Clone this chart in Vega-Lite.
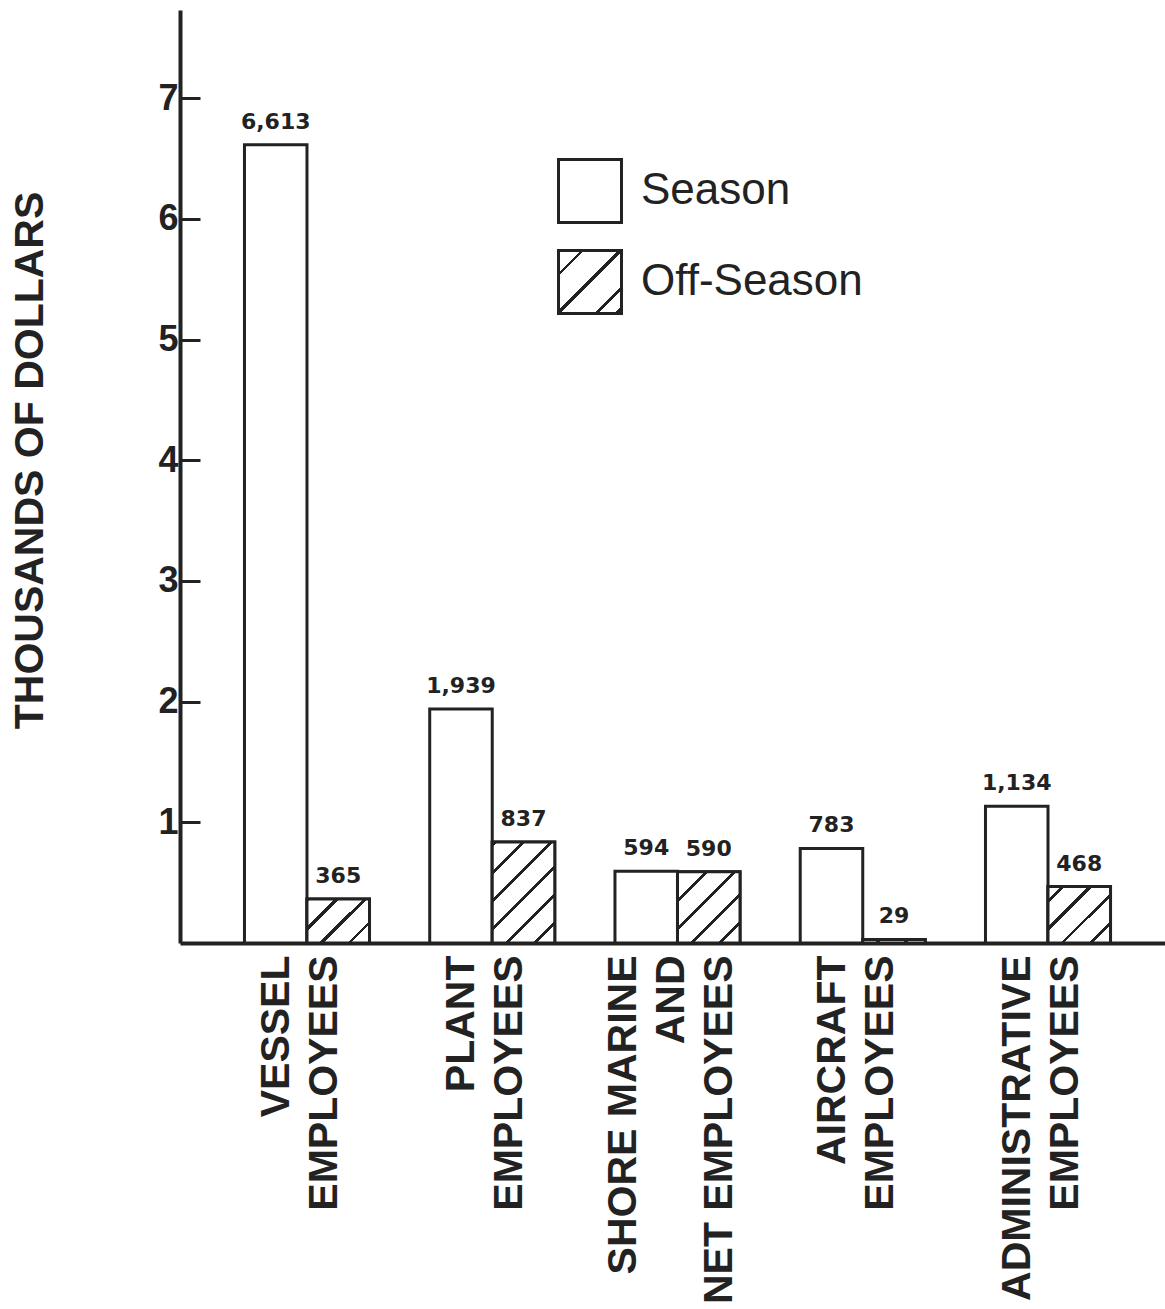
{
  "$schema": "https://vega.github.io/schema/vega-lite/v6.json",
  "autosize": {"type": "none"},
  "padding": {"left": 180, "top": 10, "right": 0, "bottom": 366},
  "width": 985,
  "height": 933,
  "background": "white",
  "config": {
    "view": {"stroke": null},
    "font": "Liberation Sans",
    "axis": {"grid": false, "domainColor": "#222", "domainWidth": 4, "tickColor": "#222", "labelColor": "#222", "titleColor": "#222"}
  },
  "data": {
    "values": [
      {"category": "VESSEL\nEMPLOYEES", "period": "Season", "value": 6613},
      {"category": "VESSEL\nEMPLOYEES", "period": "Off-Season", "value": 365},
      {"category": "PLANT\nEMPLOYEES", "period": "Season", "value": 1939},
      {"category": "PLANT\nEMPLOYEES", "period": "Off-Season", "value": 837},
      {"category": "SHORE MARINE\nAND\nNET EMPLOYEES", "period": "Season", "value": 594},
      {"category": "SHORE MARINE\nAND\nNET EMPLOYEES", "period": "Off-Season", "value": 590},
      {"category": "AIRCRAFT\nEMPLOYEES", "period": "Season", "value": 783},
      {"category": "AIRCRAFT\nEMPLOYEES", "period": "Off-Season", "value": 29},
      {"category": "ADMINISTRATIVE\nEMPLOYEES", "period": "Season", "value": 1134},
      {"category": "ADMINISTRATIVE\nEMPLOYEES", "period": "Off-Season", "value": 468}
    ]
  },
  "encoding": {
    "x": {
      "field": "category", "type": "nominal", "sort": null,
      "scale": {"paddingInner": 0.325, "paddingOuter": 0.321, "align": 0.542},
      "axis": {
        "title": null, "ticks": false, "labelAngle": -90, "labelAlign": "right", "labelBaseline": "middle",
        "labelPadding": 12, "labelFontSize": 41, "labelFontWeight": "bold", "labelLineHeight": 48,
        "labelLimit": 500, "labelOverlap": false, "labelFlush": false,
        "labelOffset": {"condition": {"test": "indexof(datum.value, 'SHORE') === 0", "value": -53}, "value": -30},
        "labelExpr": "split(datum.label, '\\n')"
      }
    },
    "xOffset": {"field": "period", "type": "nominal", "scale": {"domain": ["Season", "Off-Season"]}},
    "y": {
      "field": "value", "type": "quantitative",
      "scale": {"domain": [0, 7730], "nice": false},
      "axis": {
        "values": [1000, 2000, 3000, 4000, 5000, 6000, 7000],
        "labelExpr": "datum.value / 1000",
        "tickSize": -20, "tickWidth": 3, "labelPadding": 22,
        "labelFontSize": 36, "labelFontWeight": "bold",
        "title": "THOUSANDS OF DOLLARS", "titleFontSize": 41, "titleFontWeight": "bold",
        "titleAngle": -90, "titleX": -150, "titleY": 450, "titleAlign": "center", "titleBaseline": "middle"
      }
    }
  },
  "layer": [
    {
      "mark": {"type": "bar", "stroke": "#222", "strokeWidth": 3},
      "encoding": {
        "fill": {
          "field": "period", "type": "nominal",
          "scale": {
            "domain": ["Season", "Off-Season"],
            "range": ["white", {"expr": "{gradient: 'linear', x1: 0, y1: 0, x2: 1, y2: 1, stops: [{offset: 0, color: 'white'}, {offset: 0.175, color: 'white'}, {offset: 0.175, color: '#222'}, {offset: 0.206, color: '#222'}, {offset: 0.206, color: 'white'}, {offset: 0.476, color: 'white'}, {offset: 0.476, color: '#222'}, {offset: 0.508, color: '#222'}, {offset: 0.508, color: 'white'}, {offset: 0.778, color: 'white'}, {offset: 0.778, color: '#222'}, {offset: 0.810, color: '#222'}, {offset: 0.810, color: 'white'}, {offset: 0.944, color: 'white'}, {offset: 0.944, color: '#222'}, {offset: 1, color: '#222'}]}"}]
          },
          "legend": {
            "title": null, "orient": "none", "legendX": 377, "legendY": 148, "padding": 0,
            "symbolType": "square", "symbolSize": 3969, "symbolStrokeColor": "#222", "symbolStrokeWidth": 3,
            "labelFontSize": 44, "labelFont": "Liberation Sans", "labelColor": "#222", "labelOffset": 18,
            "rowPadding": 15, "labelLimit": 400,
            "encode": {
              "symbols": {
                "update": {
                  "stroke": {"value": "#222"},
                  "strokeWidth": {"value": 3},
                  "opacity": {"value": 1}
                }
              }
            }
          }
        }
      }
    },
    {
      "transform": [{"filter": "datum.period === 'Off-Season'"}],
      "mark": {"type": "bar", "stroke": "#222", "strokeWidth": 3},
      "encoding": {
        "fill": {
          "condition": [
            {"test": "indexof(datum.category, 'VESSEL') === 0", "value": {"gradient": "linear", "x1": 0, "y1": 0, "x2": 1.139, "y2": 0.803, "stops": [
              {"offset": 0, "color": "white"},
              {"offset": 0.001, "color": "white"}, {"offset": 0.001, "color": "#222"}, {"offset": 0.038, "color": "#222"}, {"offset": 0.038, "color": "white"},
              {"offset": 0.263, "color": "white"}, {"offset": 0.263, "color": "#222"}, {"offset": 0.301, "color": "#222"}, {"offset": 0.301, "color": "white"},
              {"offset": 0.526, "color": "white"}, {"offset": 0.526, "color": "#222"}, {"offset": 0.564, "color": "#222"}, {"offset": 0.564, "color": "white"},
              {"offset": 0.789, "color": "white"}, {"offset": 0.789, "color": "#222"}, {"offset": 0.826, "color": "#222"}, {"offset": 0.826, "color": "white"},
              {"offset": 1, "color": "white"}
            ]}},
            {"test": "indexof(datum.category, 'PLANT') === 0", "value": {"gradient": "linear", "x1": 0, "y1": 0, "x2": 0.724, "y2": 1.171, "stops": [
              {"offset": 0, "color": "white"},
              {"offset": 0.006, "color": "white"}, {"offset": 0.006, "color": "#222"}, {"offset": 0.031, "color": "#222"}, {"offset": 0.031, "color": "white"},
              {"offset": 0.178, "color": "white"}, {"offset": 0.178, "color": "#222"}, {"offset": 0.202, "color": "#222"}, {"offset": 0.202, "color": "white"},
              {"offset": 0.349, "color": "white"}, {"offset": 0.349, "color": "#222"}, {"offset": 0.373, "color": "#222"}, {"offset": 0.373, "color": "white"},
              {"offset": 0.520, "color": "white"}, {"offset": 0.520, "color": "#222"}, {"offset": 0.544, "color": "#222"}, {"offset": 0.544, "color": "white"},
              {"offset": 0.691, "color": "white"}, {"offset": 0.691, "color": "#222"}, {"offset": 0.716, "color": "#222"}, {"offset": 0.716, "color": "white"},
              {"offset": 0.862, "color": "white"}, {"offset": 0.862, "color": "#222"}, {"offset": 0.887, "color": "#222"}, {"offset": 0.887, "color": "white"},
              {"offset": 1, "color": "white"}
            ]}},
            {"test": "indexof(datum.category, 'SHORE') === 0", "value": {"gradient": "linear", "x1": 0, "y1": 0, "x2": 0.931, "y2": 1.061, "stops": [
              {"offset": 0, "color": "#222"}, {"offset": 0.024, "color": "#222"}, {"offset": 0.024, "color": "white"},
              {"offset": 0.204, "color": "white"}, {"offset": 0.204, "color": "#222"}, {"offset": 0.233, "color": "#222"}, {"offset": 0.233, "color": "white"},
              {"offset": 0.413, "color": "white"}, {"offset": 0.413, "color": "#222"}, {"offset": 0.443, "color": "#222"}, {"offset": 0.443, "color": "white"},
              {"offset": 0.622, "color": "white"}, {"offset": 0.622, "color": "#222"}, {"offset": 0.652, "color": "#222"}, {"offset": 0.652, "color": "white"},
              {"offset": 0.832, "color": "white"}, {"offset": 0.832, "color": "#222"}, {"offset": 0.862, "color": "#222"}, {"offset": 0.862, "color": "white"},
              {"offset": 1, "color": "white"}
            ]}},
            {"test": "indexof(datum.category, 'AIRCRAFT') === 0", "value": {"gradient": "linear", "x1": 0, "y1": 0, "x2": 1.053, "y2": 0.059, "stops": [
              {"offset": 0, "color": "white"},
              {"offset": 0.235, "color": "white"}, {"offset": 0.235, "color": "#222"}, {"offset": 0.296, "color": "#222"}, {"offset": 0.296, "color": "white"},
              {"offset": 0.659, "color": "white"}, {"offset": 0.659, "color": "#222"}, {"offset": 0.720, "color": "#222"}, {"offset": 0.720, "color": "white"},
              {"offset": 1, "color": "white"}
            ]}}
          ],
          "value": {"gradient": "linear", "x1": 0, "y1": 0, "x2": 1.048, "y2": 0.947, "stops": [
            {"offset": 0, "color": "white"},
            {"offset": 0.105, "color": "white"}, {"offset": 0.105, "color": "#222"}, {"offset": 0.139, "color": "#222"}, {"offset": 0.139, "color": "white"},
            {"offset": 0.340, "color": "white"}, {"offset": 0.340, "color": "#222"}, {"offset": 0.374, "color": "#222"}, {"offset": 0.374, "color": "white"},
            {"offset": 0.576, "color": "white"}, {"offset": 0.576, "color": "#222"}, {"offset": 0.609, "color": "#222"}, {"offset": 0.609, "color": "white"},
            {"offset": 0.811, "color": "white"}, {"offset": 0.811, "color": "#222"}, {"offset": 0.845, "color": "#222"}, {"offset": 0.845, "color": "white"},
            {"offset": 1, "color": "white"}
          ]}
        }
      }
    },
    {
      "mark": {"type": "text", "baseline": "bottom", "dy": -11, "font": "DejaVu Sans", "fontWeight": "bold", "fontSize": 22, "color": "#222"},
      "encoding": {
        "text": {"field": "value", "type": "quantitative", "format": ","}
      }
    }
  ]
}
